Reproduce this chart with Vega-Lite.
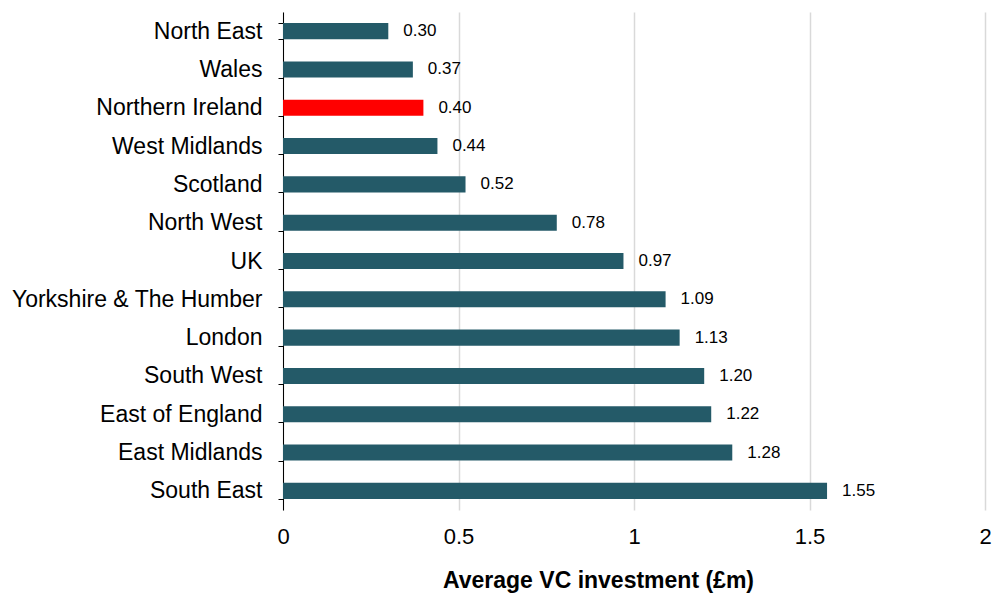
{
  "$schema": "https://vega.github.io/schema/vega-lite/v6.json",
  "autosize": {"type": "none"},
  "padding": {"left": 283, "top": 12, "right": 7, "bottom": 86},
  "width": 702,
  "height": 498,
  "background": "white",
  "config": {"view": {"stroke": null}, "font": "Liberation Sans"},
  "data": {"values": [
    {"region": "North East", "value": 0.30, "hl": "no"},
    {"region": "Wales", "value": 0.37, "hl": "no"},
    {"region": "Northern Ireland", "value": 0.40, "hl": "yes"},
    {"region": "West Midlands", "value": 0.44, "hl": "no"},
    {"region": "Scotland", "value": 0.52, "hl": "no"},
    {"region": "North West", "value": 0.78, "hl": "no"},
    {"region": "UK", "value": 0.97, "hl": "no"},
    {"region": "Yorkshire & The Humber", "value": 1.09, "hl": "no"},
    {"region": "London", "value": 1.13, "hl": "no"},
    {"region": "South West", "value": 1.20, "hl": "no"},
    {"region": "East of England", "value": 1.22, "hl": "no"},
    {"region": "East Midlands", "value": 1.28, "hl": "no"},
    {"region": "South East", "value": 1.55, "hl": "no"}
  ]},
  "encoding": {
    "y": {
      "field": "region", "type": "nominal", "sort": null,
      "scale": {"paddingInner": 0.58, "paddingOuter": 0.29},
      "axis": {
        "title": null, "labelFontSize": 23, "labelColor": "#000000",
        "labelPadding": 16, "tickSize": 5, "tickBand": "extent",
        "tickColor": "#000000", "domainColor": "#000000", "labelLimit": 400
      }
    },
    "x": {
      "field": "value", "type": "quantitative",
      "scale": {"domain": [0, 2]},
      "axis": {
        "values": [0, 0.5, 1, 1.5, 2], "format": "~g", "labelOverlap": false, "labelFlush": false,
        "domain": false, "ticks": false,
        "labelFontSize": 22, "labelColor": "#000000", "labelPadding": 16,
        "gridColor": "#D9D9D9", "gridWidth": 1.5,
        "title": "Average VC investment (£m)", "titleFontSize": 23, "titleFontWeight": "bold",
        "titleColor": "#000000", "titleX": 315, "titleY": 77, "titleBaseline": "alphabetic", "titleAlign": "center"
      }
    }
  },
  "layer": [
    {
      "mark": {"type": "bar"},
      "encoding": {
        "color": {
          "field": "hl", "type": "nominal",
          "scale": {"domain": ["no", "yes"], "range": ["#245A68", "#FF0000"]},
          "legend": null
        }
      }
    },
    {
      "mark": {"type": "text", "align": "left", "baseline": "middle", "dx": 15, "fontSize": 17, "color": "#000000"},
      "encoding": {
        "text": {"field": "value", "type": "quantitative", "format": ".2f"}
      }
    }
  ]
}
